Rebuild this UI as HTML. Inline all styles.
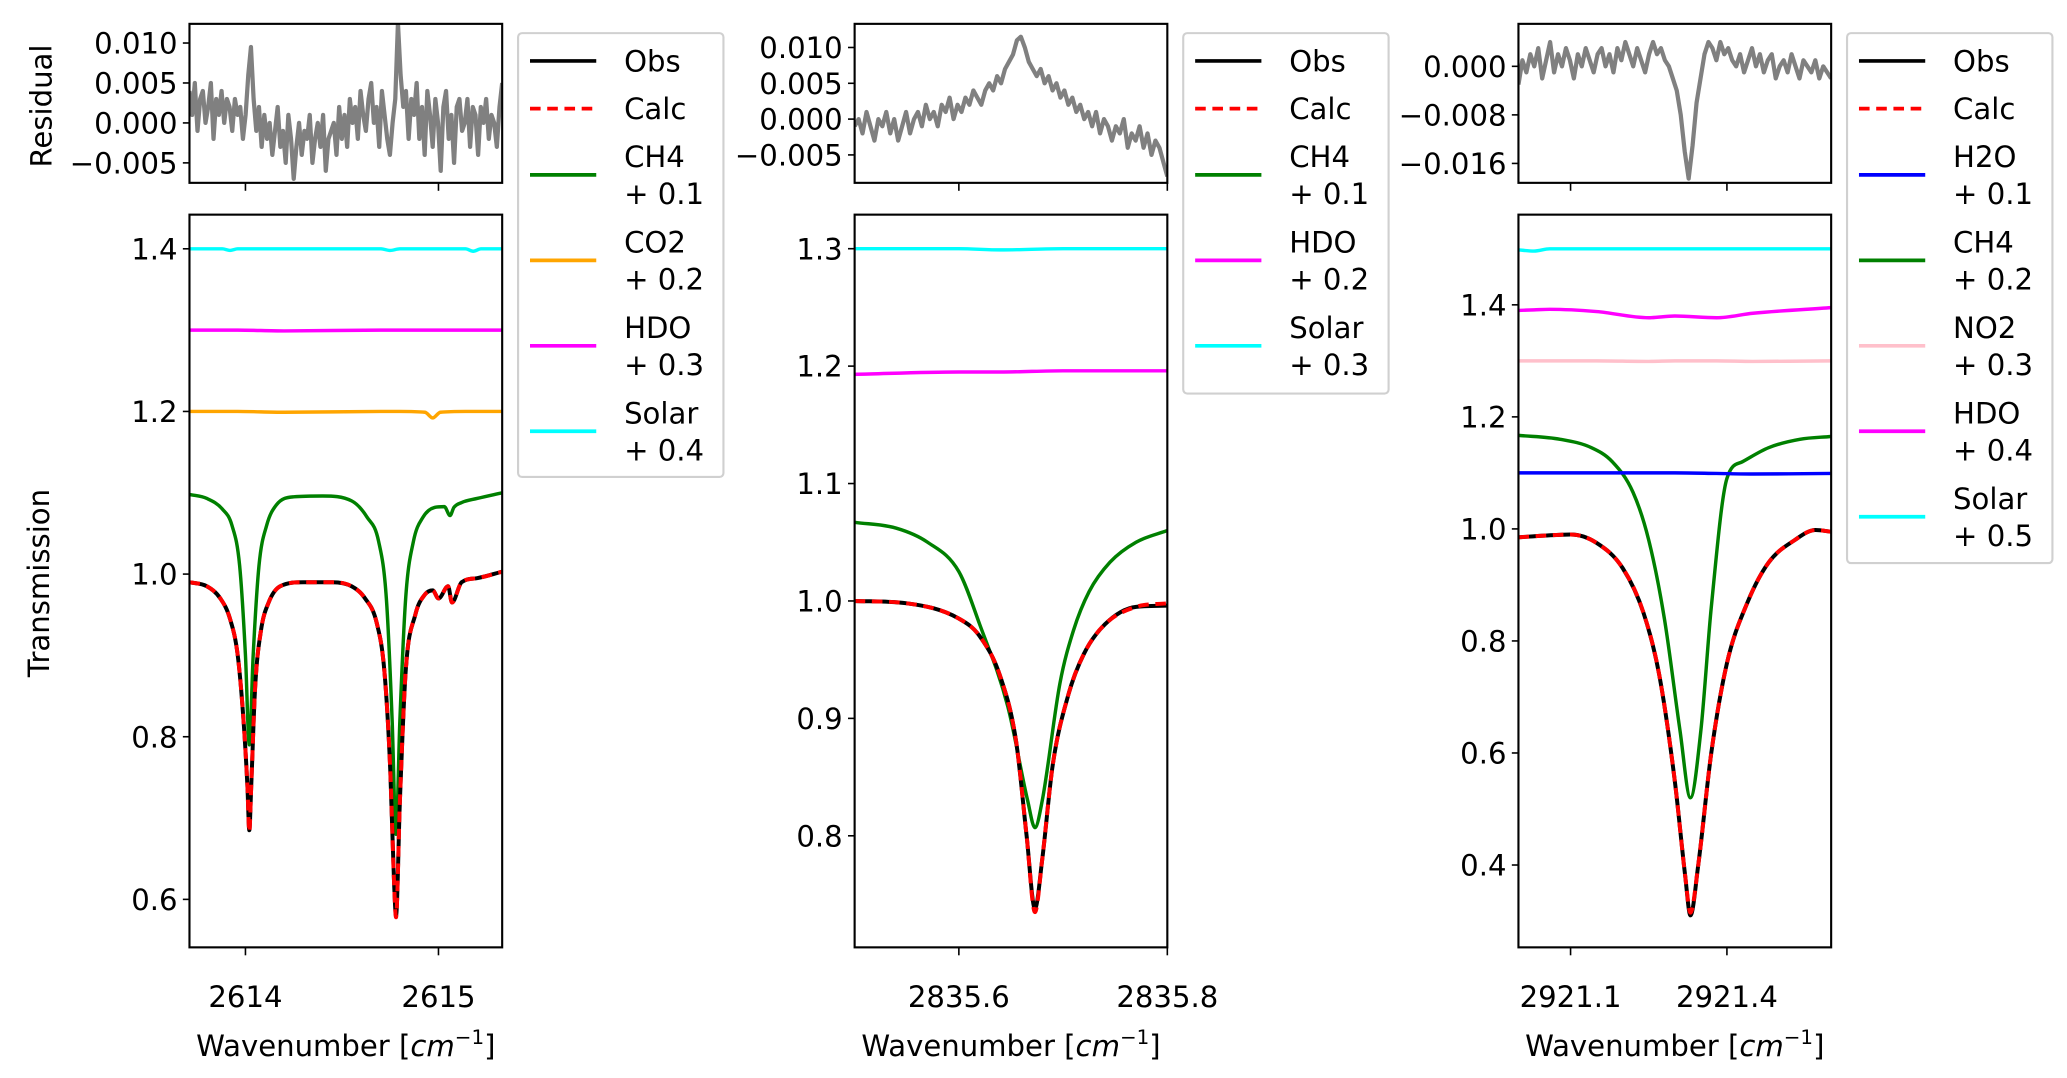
<!DOCTYPE html>
<html><head><meta charset="utf-8"><style>
html,body{margin:0;padding:0;background:#fff}
svg{display:block}
text{font-family:"DejaVu Sans","Liberation Sans",sans-serif;fill:#000}
</style></head><body>
<svg id="fig" width="2067" height="1078" viewBox="0 0 1560 813.6" preserveAspectRatio="none" xmlns="http://www.w3.org/2000/svg"></svg>
<script>
// ---------- Panel 1 data ----------
const p1ObsX = [2613.71,2613.8,2613.87,2613.92,2613.96,2613.99,2614.01,2614.02,2614.03,2614.05,2614.08,2614.12,2614.18,2614.3,2614.45,2614.55,2614.62,2614.68,2614.72,2614.75,2614.77,2614.78,2614.8,2614.83,2614.88,2614.93,2614.97,2615.0,2615.05,2615.07,2615.12,2615.2,2615.33];
const p1ObsY = [0.99,0.985,0.97,0.945,0.9,0.82,0.74,0.685,0.74,0.86,0.93,0.965,0.985,0.99,0.99,0.985,0.97,0.94,0.88,0.76,0.62,0.58,0.72,0.88,0.95,0.975,0.98,0.97,0.985,0.965,0.99,0.995,1.003];
const p1CalcY = [0.99,0.985,0.97,0.945,0.9,0.82,0.74,0.683,0.74,0.86,0.93,0.965,0.985,0.99,0.99,0.985,0.97,0.94,0.88,0.76,0.62,0.578,0.72,0.88,0.95,0.975,0.98,0.97,0.985,0.965,0.99,0.995,1.003];
const p1Ch4X = [2613.71,2613.8,2613.88,2613.93,2613.97,2614.0,2614.02,2614.04,2614.07,2614.11,2614.16,2614.25,2614.4,2614.55,2614.63,2614.69,2614.73,2614.76,2614.78,2614.8,2614.83,2614.87,2614.92,2614.98,2615.03,2615.06,2615.08,2615.12,2615.2,2615.33];
const p1Ch4Y = [1.098,1.093,1.08,1.06,1.01,0.9,0.79,0.9,1.01,1.06,1.085,1.095,1.096,1.09,1.07,1.04,0.97,0.82,0.68,0.82,0.97,1.04,1.07,1.082,1.083,1.072,1.082,1.088,1.093,1.1];
const p1FlatX = [2613.71,2613.88,2613.92,2613.96,2614.2,2614.7,2614.75,2614.8,2614.93,2614.97,2615.01,2615.14,2615.18,2615.22,2615.33];
const p1Co2Y = [1.2,1.2,1.2,1.2,1.199,1.2,1.2,1.2,1.199,1.192,1.199,1.2,1.2,1.2,1.2];
const p1HdoY = [1.3,1.3,1.3,1.3,1.299,1.3,1.3,1.3,1.3,1.3,1.3,1.3,1.3,1.3,1.3];
const p1SolY = [1.4,1.4,1.398,1.4,1.4,1.4,1.398,1.4,1.4,1.4,1.4,1.4,1.397,1.4,1.4];
const p1ResY = [0.004,0.001,0.005,-0.001,0.003,0.004,0.0,0.002,0.005,-0.002,0.003,0.001,0.004,0.0,0.003,0.002,-0.001,0.003,0.001,0.002,-0.002,0.001,0.006,0.0095,0.003,-0.001,0.002,-0.003,0.001,-0.002,0.0,-0.004,-0.001,0.002,-0.003,-0.001,-0.005,0.001,-0.002,-0.007,-0.003,0.0,-0.004,-0.001,-0.002,0.001,-0.005,-0.002,0.0,-0.003,0.001,-0.006,-0.002,-0.001,0.0,-0.004,0.002,-0.002,0.001,-0.003,0.003,0.0,0.002,-0.002,0.004,0.001,-0.001,0.003,0.005,0.0,0.002,-0.003,0.004,0.001,-0.002,-0.004,0.0,0.003,0.0125,0.006,0.002,0.004,-0.002,0.003,0.001,0.005,-0.002,0.002,-0.004,0.004,0.001,-0.003,0.003,0.0,-0.006,0.002,0.004,-0.002,0.001,-0.005,0.002,0.003,-0.001,0.0,0.003,-0.003,0.002,0.001,-0.004,0.002,0.0,0.003,-0.002,0.001,0.0,-0.003,0.002,0.005];
// ---------- Panel 2 data ----------
const p2ObsX = [2835.5,2835.55,2835.6,2835.62,2835.64,2835.655,2835.665,2835.673,2835.68,2835.69,2835.705,2835.72,2835.74,2835.77,2835.8];
const p2ObsY = [1.0,0.998,0.985,0.97,0.935,0.88,0.8,0.738,0.78,0.86,0.92,0.955,0.98,0.995,0.996];
const p2CalcY = [1.0,0.998,0.985,0.97,0.935,0.88,0.8,0.735,0.78,0.86,0.92,0.955,0.98,0.995,0.998];
const p2Ch4X = [2835.5,2835.54,2835.57,2835.6,2835.62,2835.647,2835.666,2835.673,2835.68,2835.697,2835.71,2835.725,2835.745,2835.77,2835.8];
const p2Ch4Y = [1.067,1.062,1.05,1.025,0.98,0.91,0.83,0.807,0.83,0.93,0.975,1.008,1.033,1.05,1.06];
const p2FlatX = [2835.5,2835.6,2835.64,2835.7,2835.8];
const p2HdoY = [1.193,1.195,1.195,1.196,1.196];
const p2SolY = [1.3,1.3,1.299,1.3,1.3];
const p2ResY = [-0.001,0.0,-0.002,0.001,-0.001,-0.003,0.0,-0.001,0.001,-0.002,0.0,-0.003,-0.001,0.001,-0.002,0.0,0.001,-0.001,0.002,0.0,0.001,-0.001,0.002,0.001,0.003,0.0,0.002,0.001,0.003,0.002,0.004,0.003,0.002,0.004,0.005,0.004,0.006,0.005,0.007,0.008,0.009,0.011,0.0115,0.01,0.008,0.007,0.006,0.007,0.005,0.006,0.004,0.005,0.003,0.004,0.002,0.003,0.001,0.002,0.0,0.001,-0.001,0.001,-0.002,0.0,-0.001,-0.003,-0.001,-0.002,0.0,-0.004,-0.002,-0.003,-0.001,-0.004,-0.002,-0.005,-0.003,-0.004,-0.006,-0.008];
// ---------- Panel 3 data ----------
const p3ObsX = [2921.0,2921.05,2921.1,2921.15,2921.2,2921.24,2921.27,2921.3,2921.32,2921.33,2921.345,2921.37,2921.4,2921.44,2921.48,2921.53,2921.57,2921.6];
const p3ObsY = [0.985,0.988,0.99,0.975,0.93,0.85,0.74,0.55,0.38,0.31,0.4,0.6,0.76,0.87,0.94,0.98,0.998,0.995];
const p3CalcY = [0.985,0.988,0.99,0.975,0.93,0.85,0.74,0.55,0.38,0.315,0.4,0.6,0.76,0.87,0.94,0.98,0.998,0.995];
const p3Ch4X = [2921.0,2921.08,2921.14,2921.18,2921.22,2921.25,2921.28,2921.31,2921.33,2921.35,2921.37,2921.4,2921.43,2921.48,2921.54,2921.6];
const p3Ch4Y = [1.167,1.16,1.145,1.12,1.065,0.98,0.84,0.64,0.52,0.64,0.86,1.09,1.12,1.145,1.16,1.165];
const p3FlatX = [2921.0,2921.03,2921.06,2921.15,2921.25,2921.3,2921.38,2921.45,2921.6];
const p3H2oY = [1.1,1.1,1.1,1.1,1.1,1.1,1.099,1.098,1.099];
const p3No2Y = [1.3,1.3,1.3,1.3,1.299,1.3,1.3,1.299,1.3];
const p3HdoY = [1.39,1.391,1.392,1.388,1.377,1.38,1.377,1.385,1.395];
const p3SolY = [1.498,1.496,1.5,1.5,1.5,1.5,1.5,1.5,1.5];
const p3ResY = [-0.003,0.001,-0.001,0.002,0.0,0.003,-0.002,0.001,0.004,-0.001,0.002,0.0,0.003,0.001,-0.002,0.002,0.0,0.003,0.001,-0.001,0.002,0.003,0.0,0.002,-0.001,0.003,0.001,0.004,0.002,0.0,0.003,0.001,-0.001,0.002,0.004,0.002,0.003,0.001,0.0,-0.002,-0.004,-0.008,-0.014,-0.0185,-0.013,-0.006,-0.002,0.002,0.004,0.003,0.001,0.004,0.002,0.003,0.001,0.0,0.002,-0.001,0.001,0.003,0.0,0.002,-0.001,0.001,0.002,-0.002,0.0,0.001,-0.001,0.002,0.0,-0.002,0.001,0.0,-0.001,0.001,-0.002,0.0,-0.001,-0.002];

const NS = 'http://www.w3.org/2000/svg';
const svg = document.getElementById('fig');
const FS = 22;
function mk(tag, attrs, parent){ const e=document.createElementNS(NS,tag); for(const k in attrs) e.setAttribute(k,attrs[k]); (parent||svg).appendChild(e); return e; }
function linspace(a,b,n){ const r=[]; for(let i=0;i<n;i++) r.push(a+(b-a)*i/(n-1)); return r; }
function monoPath(px, py){
  const n=px.length; if(n<3) return 'M'+px.map((x,i)=>x+','+py[i]).join('L');
  const d=[], m=new Array(n);
  for(let i=0;i<n-1;i++) d.push((py[i+1]-py[i])/(px[i+1]-px[i]));
  m[0]=d[0]; m[n-1]=d[n-2];
  for(let i=1;i<n-1;i++){ m[i] = (d[i-1]*d[i]<=0)?0:(d[i-1]+d[i])/2; }
  for(let i=0;i<n-1;i++){
    if(d[i]===0){m[i]=0;m[i+1]=0;continue;}
    const a=m[i]/d[i], b=m[i+1]/d[i], s=a*a+b*b;
    if(s>9){const t=3/Math.sqrt(s); m[i]=t*a*d[i]; m[i+1]=t*b*d[i];}
  }
  let p='M'+px[0].toFixed(2)+','+py[0].toFixed(2);
  for(let i=0;i<n-1;i++){
    const h=(px[i+1]-px[i])/3;
    p+='C'+(px[i]+h).toFixed(2)+','+(py[i]+m[i]*h).toFixed(2)+' '+(px[i+1]-h).toFixed(2)+','+(py[i+1]-m[i+1]*h).toFixed(2)+' '+px[i+1].toFixed(2)+','+py[i+1].toFixed(2);
  }
  return p;
}

function drawPanel(cfg){
  const g = mk('g',{});
  
  
  const L=cfg.left, R=cfg.left+236;
  const xs = v => L + (v-cfg.x0)/(cfg.x1-cfg.x0)*(R-L);
  const rT=18, rB=138, mT=162, mB=715;
  const ry = v => rB - (v-cfg.r0)/(cfg.r1-cfg.r0)*(rB-rT);
  const my = v => mB - (v-cfg.y0)/(cfg.y1-cfg.y0)*(mB-mT);
  const rclip = mk('clipPath',{id:'r'+cfg.id},g); mk('rect',{x:L,y:rT,width:R-L,height:rB-rT},rclip);
  const rx = linspace(cfg.x0, cfg.x1, cfg.res.length);
  const rp = mk('polyline',{points: cfg.res.map((v,i)=>xs(rx[i]).toFixed(2)+','+ry(v).toFixed(2)).join(' '), fill:'none', stroke:'#808080','stroke-width':3.2,'stroke-linejoin':'round','clip-path':'url(#r'+cfg.id+')'}, g);
  
  
  const rbox = mk('rect',{x:L,y:rT,width:R-L,height:rB-rT,fill:'none',stroke:'#000','stroke-width':1.6},g);
  
  
  cfg.rTicks.forEach((t,i)=>{
    mk('line',{x1:L-5,x2:L,y1:ry(t),y2:ry(t),stroke:'#000','stroke-width':1.2},g);
    const tx = mk('text',{x:L-9,y:ry(t)+8,'text-anchor':'end','font-size':FS},g); tx.textContent=cfg.rLabels[i];
    
    
  });
  cfg.xTicks.forEach(t=>{ mk('line',{x1:xs(t),x2:xs(t),y1:rB,y2:rB+6,stroke:'#000','stroke-width':1.2},g); });
  const clip = mk('clipPath',{id:'c'+cfg.id},g); mk('rect',{x:L,y:mT,width:R-L,height:mB-mT},clip);
  const mg = mk('g',{'clip-path':'url(#c'+cfg.id+')'},g);
  cfg.series.forEach(s=>{
    const p = mk('path',{d:monoPath(s.x.map(xs), s.y.map(my)),fill:'none',stroke:s.c,'stroke-width':s.w||2.6,'stroke-linejoin':'round'},mg);
    if(s.dash) p.setAttribute('stroke-dasharray', s.dash);
    
    
  });
  const mbox = mk('rect',{x:L,y:mT,width:R-L,height:mB-mT,fill:'none',stroke:'#000','stroke-width':1.6},g);
  
  
  cfg.yTicks.forEach((t,i)=>{
    mk('line',{x1:L-5,x2:L,y1:my(t),y2:my(t),stroke:'#000','stroke-width':1.2},g);
    const tx = mk('text',{x:L-9,y:my(t)+8,'text-anchor':'end','font-size':FS},g); tx.textContent=cfg.yLabels[i];
    
    
  });
  cfg.xTicks.forEach((t,i)=>{
    mk('line',{x1:xs(t),x2:xs(t),y1:mB,y2:mB+6,stroke:'#000','stroke-width':1.2},g);
    const tx = mk('text',{x:xs(t),y:mB+45,'text-anchor':'middle','font-size':FS},g); tx.textContent=cfg.xLabels[i];
    
    
  });
  const xl = mk('text',{x:(L+R)/2,y:mB+82,'text-anchor':'middle','font-size':FS},g);
  xl.innerHTML='Wavenumber [<tspan font-style="italic">cm</tspan><tspan dy="-9" font-size="15">−1</tspan><tspan dy="9">]</tspan>';
  
  
  const lx = R+12;
  const lg = mk('g',{},g);
  
  
  mk('rect',{x:lx,y:25,width:155,height:cfg.legH,rx:3,fill:'#fff',stroke:'#d0d0d0','stroke-width':1.6},lg);
  let y=46;
  cfg.legend.forEach(e=>{
    const lines=e.t.split('\n');
    const ly = lines.length>1 ? y+14 : y;
    const ln = mk('line',{x1:lx+9,x2:lx+59,y1:ly,y2:ly,stroke:e.c,'stroke-width':2.8},lg);
    if(e.dash) ln.setAttribute('stroke-dasharray',e.dash);
    lines.forEach((t,k)=>{ const tx=mk('text',{x:lx+80,y:y+8+k*28,'font-size':FS},lg); tx.textContent=t;
      
       });
    y += lines.length>1 ? 64.5 : 36;
  });
}

drawPanel({id:1,name:'panel-2614',left:143,x0:2613.71,x1:2615.33,r0:-0.0075,r1:0.0124,y0:0.541,y1:1.442,
  res:p1ResY,rTicks:[0.010,0.005,0,-0.005],rLabels:['0.010','0.005','0.000','−0.005'],
  yTicks:[1.4,1.2,1.0,0.8,0.6],yLabels:['1.4','1.2','1.0','0.8','0.6'],xTicks:[2614,2615],xLabels:['2614','2615'],
  series:[{x:p1FlatX,y:p1SolY,c:'#00ffff',n:'solar-line'},{x:p1FlatX,y:p1HdoY,c:'#ff00ff',n:'hdo-line'},{x:p1FlatX,y:p1Co2Y,c:'#ffa500',n:'co2-line'},
    {x:p1Ch4X,y:p1Ch4Y,c:'#008000',n:'ch4-line'},{x:p1ObsX,y:p1ObsY,c:'#000',n:'obs-line',w:3},{x:p1ObsX,y:p1CalcY,c:'#ff0000',dash:'8 5',n:'calc-line',w:3}],
  legH:335,legend:[{t:'Obs',c:'#000'},{t:'Calc',c:'#ff0000',dash:'8 5'},{t:'CH4\n+ 0.1',c:'#008000'},{t:'CO2\n+ 0.2',c:'#ffa500'},{t:'HDO\n+ 0.3',c:'#ff00ff'},{t:'Solar\n+ 0.4',c:'#00ffff'}]});

drawPanel({id:2,name:'panel-2835',left:645,x0:2835.5,x1:2835.8,r0:-0.0089,r1:0.0133,y0:0.705,y1:1.329,
  res:p2ResY,rTicks:[0.010,0.005,0,-0.005],rLabels:['0.010','0.005','0.000','−0.005'],
  yTicks:[1.3,1.2,1.1,1.0,0.9,0.8],yLabels:['1.3','1.2','1.1','1.0','0.9','0.8'],xTicks:[2835.6,2835.8],xLabels:['2835.6','2835.8'],
  series:[{x:p2FlatX,y:p2SolY,c:'#00ffff',n:'solar-line'},{x:p2FlatX,y:p2HdoY,c:'#ff00ff',n:'hdo-line'},
    {x:p2Ch4X,y:p2Ch4Y,c:'#008000',n:'ch4-line'},{x:p2ObsX,y:p2ObsY,c:'#000',n:'obs-line',w:3},{x:p2ObsX,y:p2CalcY,c:'#ff0000',dash:'8 5',n:'calc-line',w:3}],
  legH:272,legend:[{t:'Obs',c:'#000'},{t:'Calc',c:'#ff0000',dash:'8 5'},{t:'CH4\n+ 0.1',c:'#008000'},{t:'HDO\n+ 0.2',c:'#ff00ff'},{t:'Solar\n+ 0.3',c:'#00ffff'}]});

drawPanel({id:3,name:'panel-2921',left:1146,x0:2921.0,x1:2921.6,r0:-0.0192,r1:0.0070,y0:0.253,y1:1.561,
  res:p3ResY,rTicks:[0,-0.008,-0.016],rLabels:['0.000','−0.008','−0.016'],
  yTicks:[1.4,1.2,1.0,0.8,0.6,0.4],yLabels:['1.4','1.2','1.0','0.8','0.6','0.4'],xTicks:[2921.1,2921.4],xLabels:['2921.1','2921.4'],
  series:[{x:p3FlatX,y:p3SolY,c:'#00ffff',n:'solar-line'},{x:p3FlatX,y:p3HdoY,c:'#ff00ff',n:'hdo-line'},{x:p3FlatX,y:p3No2Y,c:'#ffc0cb',n:'no2-line'},
    {x:p3Ch4X,y:p3Ch4Y,c:'#008000',n:'ch4-line'},{x:p3FlatX,y:p3H2oY,c:'#0000ff',n:'h2o-line'},{x:p3ObsX,y:p3ObsY,c:'#000',n:'obs-line',w:3},{x:p3ObsX,y:p3CalcY,c:'#ff0000',dash:'8 5',n:'calc-line',w:3}],
  legH:400,legend:[{t:'Obs',c:'#000'},{t:'Calc',c:'#ff0000',dash:'8 5'},{t:'H2O\n+ 0.1',c:'#0000ff'},{t:'CH4\n+ 0.2',c:'#008000'},{t:'NO2\n+ 0.3',c:'#ffc0cb'},{t:'HDO\n+ 0.4',c:'#ff00ff'},{t:'Solar\n+ 0.5',c:'#00ffff'}]});

const yl1 = mk('text',{x:0,y:0,'text-anchor':'middle','font-size':FS,transform:'translate(39,80) rotate(-90)'});
yl1.textContent='Residual';


const yl2 = mk('text',{x:0,y:0,'text-anchor':'middle','font-size':FS,transform:'translate(37,440) rotate(-90)'});
yl2.textContent='Transmission';


</script>
</body></html>
